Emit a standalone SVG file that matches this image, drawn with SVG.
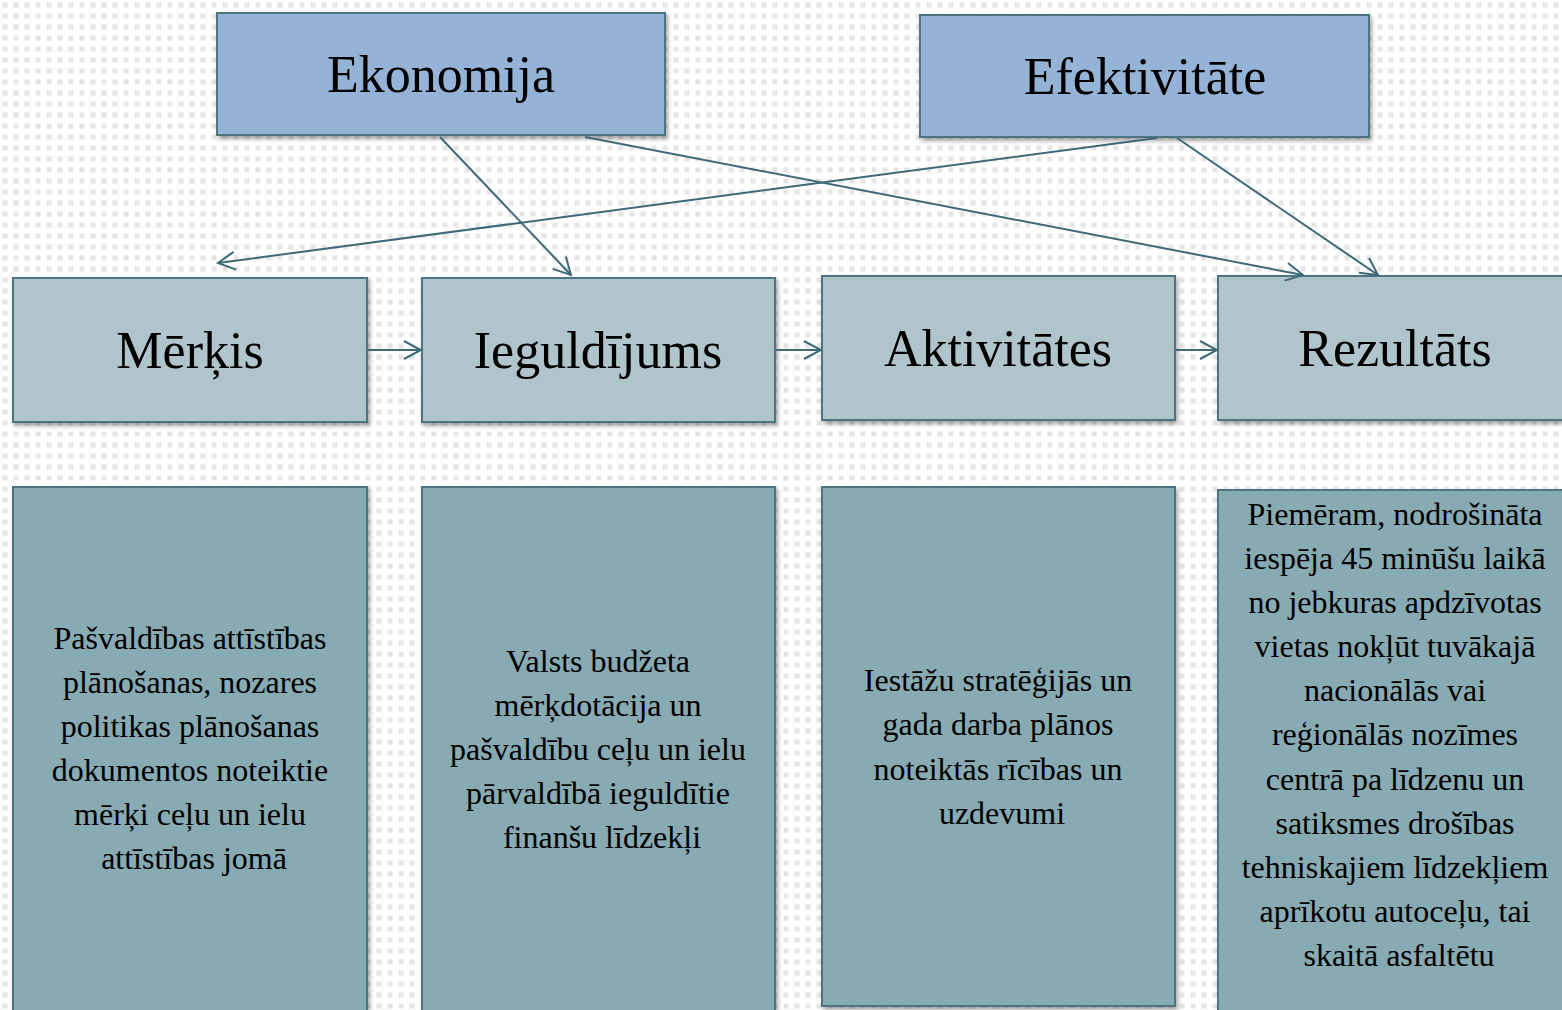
<svg xmlns="http://www.w3.org/2000/svg" width="1562" height="1010" viewBox="0 0 1562 1010">
<defs>
<pattern id="dots" x="0" y="0" width="11" height="11" patternUnits="userSpaceOnUse">
<rect width="11" height="11" fill="#ffffff"/>
<rect x="2" y="2" width="6" height="6" fill="#f3f3f3"/>
<rect x="3" y="3" width="4" height="4" fill="#e5e5e5"/>
</pattern>
<filter id="sh" x="-5%" y="-5%" width="112%" height="115%">
<feDropShadow dx="2" dy="3" stdDeviation="2" flood-color="#000" flood-opacity="0.35"/>
</filter>
<marker id="arr" viewBox="0 0 20 20" refX="18" refY="10" markerWidth="20" markerHeight="20" markerUnits="userSpaceOnUse" orient="auto">
<path d="M1,1 L18,10 L1,19" fill="none" stroke="#3e6a77" stroke-width="2"/>
</marker>
</defs>
<style>
.top{fill:#95b3d7;stroke:#4d7480;stroke-width:2;filter:url(#sh)}
.mid{fill:#b0c4cc;stroke:#4d7480;stroke-width:2;filter:url(#sh)}
.bot{fill:#87aab3;stroke:#4d7480;stroke-width:2;filter:url(#sh)}
.t{font-family:"Liberation Serif","Times New Roman",serif;font-size:52px;fill:#000;text-anchor:middle}
.b{font-family:"Liberation Serif","Times New Roman",serif;font-size:32px;fill:#000;text-anchor:middle}
.c{fill:none;stroke:#3e6a77;stroke-width:2;marker-end:url(#arr)}
</style>
<rect width="1562" height="1010" fill="url(#dots)"/>

<g id="ekonomija">
<rect class="top" x="217" y="13" width="448" height="122"/>
<text class="t" x="441" y="92">Ekonomija</text>
</g>
<g id="efektivitate">
<rect class="top" x="920" y="15" width="449" height="122"/>
<text class="t" x="1145" y="94">Efektivitāte</text>
</g>

<g id="merkis">
<rect class="mid" x="13" y="278" width="354" height="144"/>
<text class="t" x="190" y="368">Mērķis</text>
</g>
<g id="ieguldijums">
<rect class="mid" x="422" y="278" width="353" height="144"/>
<text class="t" x="598" y="368">Ieguldījums</text>
</g>
<g id="aktivitates">
<rect class="mid" x="822" y="276" width="353" height="144"/>
<text class="t" x="998" y="366">Aktivitātes</text>
</g>
<g id="rezultats">
<rect class="mid" x="1218" y="276" width="360" height="144"/>
<text class="t" x="1395" y="366">Rezultāts</text>
</g>

<g id="merkis-desc">
<rect class="bot" x="13" y="487" width="354" height="540"/>
<text class="b">
<tspan x="194" y="649">Pašvaldības attīstības</tspan>
<tspan x="194" y="693">plānošanas, nozares</tspan>
<tspan x="194" y="737">politikas plānošanas</tspan>
<tspan x="194" y="781">dokumentos noteiktie</tspan>
<tspan x="194" y="825">mērķi ceļu un ielu</tspan>
<tspan x="194" y="869">attīstības jomā</tspan>
</text>
</g>
<g id="ieguldijums-desc">
<rect class="bot" x="422" y="487" width="353" height="540"/>
<text class="b">
<tspan x="602" y="672">Valsts budžeta</tspan>
<tspan x="602" y="716">mērķdotācija un</tspan>
<tspan x="602" y="760">pašvaldību ceļu un ielu</tspan>
<tspan x="602" y="804">pārvaldībā ieguldītie</tspan>
<tspan x="602" y="848">finanšu līdzekļi</tspan>
</text>
</g>
<g id="aktivitates-desc">
<rect class="bot" x="822" y="487" width="353" height="519"/>
<text class="b">
<tspan x="1002" y="691">Iestāžu stratēģijās un</tspan>
<tspan x="1002" y="735">gada darba plānos</tspan>
<tspan x="1002" y="780">noteiktās rīcības un</tspan>
<tspan x="1002" y="824">uzdevumi</tspan>
</text>
</g>
<g id="rezultats-desc">
<rect class="bot" x="1218" y="490" width="360" height="540"/>
<text class="b">
<tspan x="1399" y="525">Piemēram, nodrošināta</tspan>
<tspan x="1399" y="569">iespēja 45 minūšu laikā</tspan>
<tspan x="1399" y="613">no jebkuras apdzīvotas</tspan>
<tspan x="1399" y="657">vietas nokļūt tuvākajā</tspan>
<tspan x="1399" y="701">nacionālās vai</tspan>
<tspan x="1399" y="745">reģionālās nozīmes</tspan>
<tspan x="1399" y="790">centrā pa līdzenu un</tspan>
<tspan x="1399" y="834">satiksmes drošības</tspan>
<tspan x="1399" y="878">tehniskajiem līdzekļiem</tspan>
<tspan x="1399" y="922">aprīkotu autoceļu, tai</tspan>
<tspan x="1399" y="966">skaitā asfaltētu</tspan>
</text>
</g>

<g id="connectors">
<line class="c" x1="440" y1="137" x2="571" y2="275"/>
<line class="c" x1="585" y1="137" x2="1303" y2="275"/>
<line class="c" x1="1157" y1="138" x2="218" y2="263"/>
<line class="c" x1="1177" y1="138" x2="1378" y2="275"/>
<line class="c" x1="367" y1="350" x2="421" y2="350"/>
<line class="c" x1="775" y1="350" x2="821" y2="350"/>
<line class="c" x1="1175" y1="350" x2="1217" y2="350"/>
</g>
</svg>
